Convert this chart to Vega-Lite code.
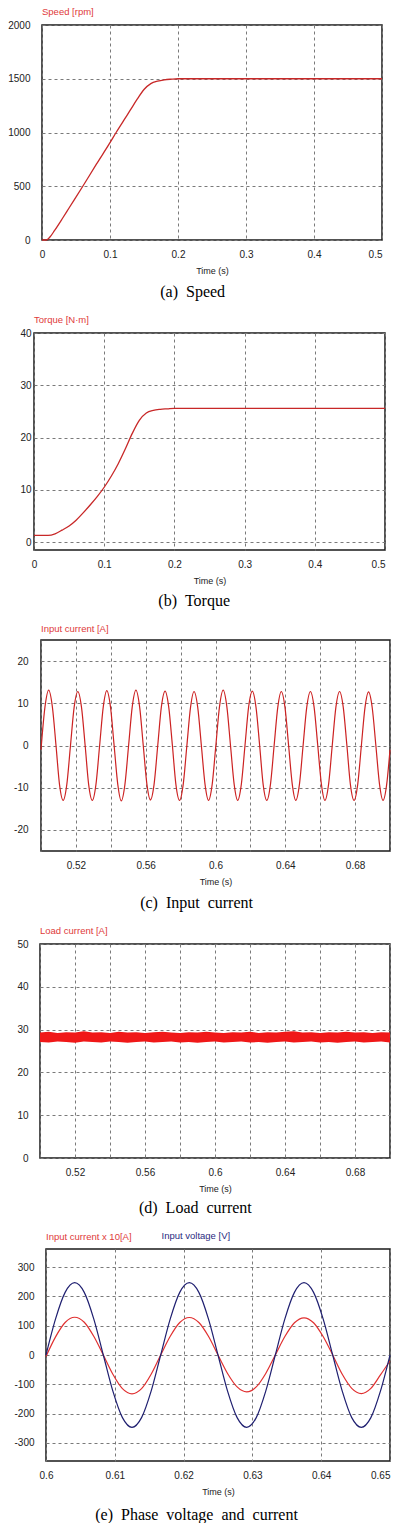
{
  "$schema": "https://vega.github.io/schema/vega-lite/v6.json",
  "background": "white",
  "padding": {"left": 0, "top": 5, "right": 0, "bottom": 0},
  "spacing": 13,
  "config": {
    "view": {"stroke": "#1a1a1a", "strokeWidth": 1.5},
    "axis": {
      "grid": true, "gridColor": "#7a7a7a", "gridDash": [3, 3], "gridWidth": 1,
      "domain": false, "ticks": false, "tickSize": 0,
      "labelFont": "Liberation Sans", "labelFontSize": 10, "labelColor": "#222",
      "titleFont": "Liberation Sans", "titleFontSize": 9, "titleFontWeight": "normal", "titleColor": "#222"
    },
    "axisX": {"labelFlush": false, "labelPadding": 9, "titlePadding": 7},
    "line": {"interpolate": "monotone"}
  },
  "vconcat": [
    {
      "title": {"text": "(a)\u00a0\u00a0Speed", "orient": "bottom", "font": "Liberation Serif", "fontSize": 16, "fontWeight": "normal", "color": "#000", "anchor": "middle", "frame": "bounds", "offset": 8},
      "spacing": 0,
      "hconcat": [
        {"width": 5, "height": 10, "data": {"values": []}, "mark": "point", "view": {"stroke": null}},
        {
          "width": 340, "height": 215,
          "title": {"text": "Speed [rpm]", "anchor": "start", "frame": "group", "color": "#e03a3a", "font": "Liberation Sans", "fontSize": 9.5, "fontWeight": "normal", "offset": 4},
          "data": {"values": [
            {"t": 0, "v": 0}, {"t": 0.0064, "v": 0}, {"t": 0.012, "v": 30}, {"t": 0.018, "v": 84},
            {"t": 0.03, "v": 200}, {"t": 0.04, "v": 300}, {"t": 0.06, "v": 500}, {"t": 0.08, "v": 705},
            {"t": 0.1, "v": 905}, {"t": 0.109, "v": 1000}, {"t": 0.12, "v": 1110}, {"t": 0.13, "v": 1210},
            {"t": 0.14, "v": 1310}, {"t": 0.15, "v": 1400}, {"t": 0.16, "v": 1455}, {"t": 0.17, "v": 1478},
            {"t": 0.18, "v": 1490}, {"t": 0.19, "v": 1496}, {"t": 0.2, "v": 1500}, {"t": 0.5, "v": 1500}
          ]},
          "mark": {"type": "line", "color": "#c82828", "strokeWidth": 1.3},
          "encoding": {
            "x": {"field": "t", "type": "quantitative", "scale": {"domain": [0, 0.5], "nice": false},
              "axis": {"title": "Time (s)", "values": [0, 0.1, 0.2, 0.3, 0.4, 0.5], "format": ".1~f",
                "labelAlign": {"condition": {"test": "datum.value >= 0.5", "value": "right"}, "value": "center"}}},
            "y": {"field": "v", "type": "quantitative", "scale": {"domain": [0, 2000], "nice": false},
              "axis": {"title": null, "values": [0, 500, 1000, 1500, 2000], "format": "d", "labelPadding": 12, "minExtent": 36}}
          }
        }
      ]
    },
    {
      "title": {"text": "(b)\u00a0\u00a0Torque", "orient": "bottom", "font": "Liberation Serif", "fontSize": 16, "fontWeight": "normal", "color": "#000", "anchor": "middle", "frame": "bounds", "offset": 7.5},
      "spacing": 0,
      "hconcat": [
        {"width": 5, "height": 10, "data": {"values": []}, "mark": "point", "view": {"stroke": null}},
        {
          "width": 351, "height": 217,
          "title": {"text": "Torque [N\u00b7m]", "anchor": "start", "frame": "group", "color": "#e03a3a", "font": "Liberation Sans", "fontSize": 9.5, "fontWeight": "normal", "offset": 4},
          "data": {"values": [
            {"t": 0, "q": 1.3}, {"t": 0.02, "q": 1.3}, {"t": 0.03, "q": 1.6}, {"t": 0.04, "q": 2.3},
            {"t": 0.05, "q": 3.1}, {"t": 0.06, "q": 4.2}, {"t": 0.07, "q": 5.6}, {"t": 0.08, "q": 7.1},
            {"t": 0.09, "q": 8.7}, {"t": 0.1, "q": 10.5}, {"t": 0.11, "q": 12.6}, {"t": 0.12, "q": 15},
            {"t": 0.13, "q": 17.8}, {"t": 0.14, "q": 20.8}, {"t": 0.15, "q": 23.3}, {"t": 0.16, "q": 24.7},
            {"t": 0.17, "q": 25.2}, {"t": 0.18, "q": 25.4}, {"t": 0.19, "q": 25.5}, {"t": 0.2, "q": 25.6},
            {"t": 0.5, "q": 25.6}
          ]},
          "mark": {"type": "line", "color": "#c82828", "strokeWidth": 1.3},
          "encoding": {
            "x": {"field": "t", "type": "quantitative", "scale": {"domain": [0, 0.5], "nice": false},
              "axis": {"title": "Time (s)", "values": [0, 0.1, 0.2, 0.3, 0.4, 0.5], "format": ".1~f",
                "labelAlign": {"condition": {"test": "datum.value >= 0.5", "value": "right"}, "value": "center"}}},
            "y": {"field": "q", "type": "quantitative", "scale": {"domain": [-1.5, 40], "nice": false, "zero": false},
              "axis": {"title": null, "values": [0, 10, 20, 30, 40], "format": "d", "labelPadding": 3, "minExtent": 28}}
          }
        }
      ]
    },
    {
      "title": {"text": "(c)\u00a0\u00a0Input\u00a0\u00a0current", "orient": "bottom", "font": "Liberation Serif", "fontSize": 16, "fontWeight": "normal", "color": "#000", "anchor": "middle", "frame": "bounds", "offset": 8},
      "spacing": 0,
      "hconcat": [
        {"width": 5, "height": 10, "data": {"values": []}, "mark": "point", "view": {"stroke": null}},
        {
          "width": 349, "height": 211,
          "title": {"text": "Input current  [A]", "anchor": "start", "frame": "group", "color": "#e03a3a", "font": "Liberation Sans", "fontSize": 9.5, "fontWeight": "normal", "offset": 6.5},
          "data": {"values": [
            {"t": 0.5, "i": -1}, {"t": 0.5023, "i": 9.2},
            {"t": 0.5044, "i": 13.1}, {"t": 0.5065, "i": 9.2}, {"t": 0.5086, "i": 0}, {"t": 0.5106, "i": -9.2}, {"t": 0.5127, "i": -13}, {"t": 0.5148, "i": -9.2}, {"t": 0.5169, "i": 0}, {"t": 0.519, "i": 9.1},
            {"t": 0.5211, "i": 12.8}, {"t": 0.5232, "i": 9.1}, {"t": 0.5253, "i": 0}, {"t": 0.5273, "i": -9.2}, {"t": 0.5294, "i": -13}, {"t": 0.5315, "i": -9.2}, {"t": 0.5336, "i": 0}, {"t": 0.5357, "i": 9.2},
            {"t": 0.5377, "i": 13}, {"t": 0.5398, "i": 9.2}, {"t": 0.5419, "i": 0}, {"t": 0.544, "i": -9.2}, {"t": 0.546, "i": -13.1}, {"t": 0.5481, "i": -9.2}, {"t": 0.5502, "i": 0}, {"t": 0.5523, "i": 9.2},
            {"t": 0.5544, "i": 13.1}, {"t": 0.5565, "i": 9.2}, {"t": 0.5586, "i": 0}, {"t": 0.5607, "i": -9.2}, {"t": 0.5627, "i": -12.9}, {"t": 0.5648, "i": -9.2}, {"t": 0.5669, "i": 0}, {"t": 0.569, "i": 9.2},
            {"t": 0.5711, "i": 12.9}, {"t": 0.5732, "i": 9.1}, {"t": 0.5753, "i": 0}, {"t": 0.5773, "i": -9.2}, {"t": 0.5794, "i": -13}, {"t": 0.5815, "i": -9.2}, {"t": 0.5836, "i": 0}, {"t": 0.5857, "i": 9.1},
            {"t": 0.5877, "i": 12.8}, {"t": 0.5898, "i": 9.1}, {"t": 0.5919, "i": 0}, {"t": 0.594, "i": -9.2}, {"t": 0.596, "i": -13}, {"t": 0.5981, "i": -9.2}, {"t": 0.6002, "i": 0}, {"t": 0.6023, "i": 9.2},
            {"t": 0.6044, "i": 13.1}, {"t": 0.6065, "i": 9.2}, {"t": 0.6086, "i": 0}, {"t": 0.6107, "i": -9.2}, {"t": 0.6127, "i": -13}, {"t": 0.6148, "i": -9.2}, {"t": 0.6169, "i": 0}, {"t": 0.619, "i": 9.2},
            {"t": 0.6211, "i": 12.9}, {"t": 0.6232, "i": 9.1}, {"t": 0.6253, "i": 0}, {"t": 0.6273, "i": -9.2}, {"t": 0.6294, "i": -13}, {"t": 0.6315, "i": -9.2}, {"t": 0.6336, "i": 0}, {"t": 0.6357, "i": 9.1},
            {"t": 0.6377, "i": 12.8}, {"t": 0.6398, "i": 9.1}, {"t": 0.6419, "i": 0}, {"t": 0.644, "i": -9.2}, {"t": 0.646, "i": -13}, {"t": 0.6481, "i": -9.2}, {"t": 0.6502, "i": 0}, {"t": 0.6523, "i": 9.1},
            {"t": 0.6544, "i": 12.8}, {"t": 0.6565, "i": 9.1}, {"t": 0.6586, "i": 0}, {"t": 0.6607, "i": -9.2}, {"t": 0.6627, "i": -13}, {"t": 0.6648, "i": -9.2}, {"t": 0.6669, "i": 0}, {"t": 0.669, "i": 9.1},
            {"t": 0.6711, "i": 12.8}, {"t": 0.6732, "i": 9.1}, {"t": 0.6753, "i": 0}, {"t": 0.6773, "i": -9.2}, {"t": 0.6794, "i": -13}, {"t": 0.6815, "i": -9.2}, {"t": 0.6836, "i": 0}, {"t": 0.6857, "i": 9.1},
            {"t": 0.6877, "i": 12.7}, {"t": 0.6898, "i": 9}, {"t": 0.6919, "i": 0}, {"t": 0.694, "i": -9.2}, {"t": 0.696, "i": -13}, {"t": 0.6981, "i": -9.2}, {"t": 0.7, "i": -1}
          ]},
          "mark": {"type": "line", "color": "#cc2222", "strokeWidth": 1.2},
          "encoding": {
            "x": {"field": "t", "type": "quantitative", "scale": {"domain": [0.5, 0.7], "nice": false, "zero": false},
              "axis": {"title": "Time (s)", "values": [0.5, 0.52, 0.54, 0.56, 0.58, 0.6, 0.62, 0.64, 0.66, 0.68, 0.7], "format": ".2~f",
                "labelExpr": "round(datum.value * 100) % 4 == 0 ? datum.label : ''"}},
            "y": {"field": "i", "type": "quantitative", "scale": {"domain": [-25, 25], "nice": false},
              "axis": {"title": null, "values": [-20, -10, 0, 10, 20], "format": "d", "labelPadding": 13, "minExtent": 35,
                "labelExpr": "replace(datum.label, '\u2212', '-')"}}
          }
        }
      ]
    },
    {
      "title": {"text": "(d)\u00a0\u00a0Load\u00a0\u00a0current", "orient": "bottom", "font": "Liberation Serif", "fontSize": 16, "fontWeight": "normal", "color": "#000", "anchor": "middle", "frame": "bounds", "offset": 6},
      "spacing": 0,
      "hconcat": [
        {"width": 5, "height": 10, "data": {"values": []}, "mark": "point", "view": {"stroke": null}},
        {
          "width": 350, "height": 214,
          "title": {"text": "Load current [A]", "anchor": "start", "frame": "group", "color": "#e03a3a", "font": "Liberation Sans", "fontSize": 9.5, "fontWeight": "normal", "offset": 4},
          "data": {"values": [
            {"t": 0.5, "lo": 27.1, "hi": 29.3}, {"t": 0.505, "lo": 27.0, "hi": 29.5}, {"t": 0.51, "lo": 27.2, "hi": 29.2},
            {"t": 0.515, "lo": 27.1, "hi": 29.4}, {"t": 0.52, "lo": 26.9, "hi": 29.3}, {"t": 0.525, "lo": 27.2, "hi": 29.6},
            {"t": 0.53, "lo": 27.1, "hi": 29.3}, {"t": 0.535, "lo": 27.0, "hi": 29.4}, {"t": 0.54, "lo": 27.2, "hi": 29.2},
            {"t": 0.545, "lo": 27.1, "hi": 29.5}, {"t": 0.55, "lo": 26.9, "hi": 29.3}, {"t": 0.555, "lo": 27.1, "hi": 29.4},
            {"t": 0.56, "lo": 27.2, "hi": 29.2}, {"t": 0.565, "lo": 27.0, "hi": 29.4}, {"t": 0.57, "lo": 27.1, "hi": 29.5},
            {"t": 0.575, "lo": 27.2, "hi": 29.3}, {"t": 0.58, "lo": 27.0, "hi": 29.2}, {"t": 0.585, "lo": 27.1, "hi": 29.4},
            {"t": 0.59, "lo": 26.9, "hi": 29.3}, {"t": 0.595, "lo": 27.1, "hi": 29.5}, {"t": 0.6, "lo": 27.2, "hi": 29.3},
            {"t": 0.605, "lo": 27.0, "hi": 29.2}, {"t": 0.61, "lo": 27.1, "hi": 29.4}, {"t": 0.615, "lo": 27.2, "hi": 29.3},
            {"t": 0.62, "lo": 27.0, "hi": 29.5}, {"t": 0.625, "lo": 27.1, "hi": 29.2}, {"t": 0.63, "lo": 26.9, "hi": 29.4},
            {"t": 0.635, "lo": 27.1, "hi": 29.3}, {"t": 0.64, "lo": 27.2, "hi": 29.5}, {"t": 0.645, "lo": 27.0, "hi": 29.6},
            {"t": 0.65, "lo": 27.1, "hi": 29.3}, {"t": 0.655, "lo": 27.2, "hi": 29.4}, {"t": 0.66, "lo": 27.0, "hi": 29.2},
            {"t": 0.665, "lo": 27.1, "hi": 29.4}, {"t": 0.67, "lo": 26.9, "hi": 29.3}, {"t": 0.675, "lo": 27.1, "hi": 29.5},
            {"t": 0.68, "lo": 27.2, "hi": 29.3}, {"t": 0.685, "lo": 27.0, "hi": 29.4}, {"t": 0.69, "lo": 27.1, "hi": 29.2},
            {"t": 0.695, "lo": 27.2, "hi": 29.4}, {"t": 0.7, "lo": 27.0, "hi": 29.3}
          ]},
          "mark": {"type": "area", "color": "#f01818", "interpolate": "linear"},
          "encoding": {
            "x": {"field": "t", "type": "quantitative", "scale": {"domain": [0.5, 0.7], "nice": false, "zero": false},
              "axis": {"title": "Time (s)", "values": [0.5, 0.52, 0.54, 0.56, 0.58, 0.6, 0.62, 0.64, 0.66, 0.68, 0.7], "format": ".2~f",
                "labelExpr": "round(datum.value * 100) % 4 == 0 ? datum.label : ''"}},
            "y": {"field": "lo", "type": "quantitative", "scale": {"domain": [0, 50], "nice": false},
              "axis": {"title": null, "values": [0, 10, 20, 30, 40, 50], "format": "d", "labelPadding": 12, "minExtent": 34}},
            "y2": {"field": "hi"}
          }
        }
      ]
    },
    {
      "title": {"text": "(e)\u00a0\u00a0Phase\u00a0\u00a0voltage\u00a0\u00a0and\u00a0\u00a0current", "orient": "bottom", "font": "Liberation Serif", "fontSize": 16, "fontWeight": "normal", "color": "#000", "anchor": "middle", "frame": "bounds", "offset": 10},
      "spacing": 0,
      "hconcat": [
        {"width": 5, "height": 10, "data": {"values": []}, "mark": "point", "view": {"stroke": null}},
        {
          "width": 344, "height": 212,
          "title": {"text": "Input current x 10[A]", "anchor": "start", "frame": "group", "color": "#e03a3a", "font": "Liberation Sans", "fontSize": 9.5, "fontWeight": "normal", "offset": -11},
          "data": {"values": [
            {"t": 0.6, "current": -5, "voltage": 0}, {"t": 0.60139, "current": 62, "voltage": 123.5}, {"t": 0.60278, "current": 111, "voltage": 213.9},
            {"t": 0.60417, "current": 129, "voltage": 247}, {"t": 0.60556, "current": 112, "voltage": 213.9}, {"t": 0.60694, "current": 64, "voltage": 123.5},
            {"t": 0.60833, "current": 0, "voltage": 0}, {"t": 0.60972, "current": -66, "voltage": -123.5}, {"t": 0.61111, "current": -115, "voltage": -213.9},
            {"t": 0.6125, "current": -133, "voltage": -247}, {"t": 0.61389, "current": -115, "voltage": -213.9}, {"t": 0.61528, "current": -66, "voltage": -123.5},
            {"t": 0.61667, "current": 0, "voltage": 0}, {"t": 0.61806, "current": 64, "voltage": 123.5}, {"t": 0.61944, "current": 111, "voltage": 213.9},
            {"t": 0.62083, "current": 128, "voltage": 247}, {"t": 0.62222, "current": 111, "voltage": 213.9}, {"t": 0.62361, "current": 64, "voltage": 123.5},
            {"t": 0.625, "current": 0, "voltage": 0}, {"t": 0.62639, "current": -63, "voltage": -123.5}, {"t": 0.62778, "current": -109, "voltage": -213.9},
            {"t": 0.62917, "current": -126, "voltage": -247}, {"t": 0.63056, "current": -109, "voltage": -213.9}, {"t": 0.63194, "current": -63, "voltage": -123.5},
            {"t": 0.63333, "current": 0, "voltage": 0}, {"t": 0.63472, "current": 63, "voltage": 123.5}, {"t": 0.63611, "current": 110, "voltage": 213.9},
            {"t": 0.6375, "current": 127, "voltage": 247}, {"t": 0.63889, "current": 110, "voltage": 213.9}, {"t": 0.64028, "current": 63, "voltage": 123.5},
            {"t": 0.64167, "current": 0, "voltage": 0}, {"t": 0.64306, "current": -66, "voltage": -123.5}, {"t": 0.64444, "current": -114, "voltage": -213.9},
            {"t": 0.64583, "current": -132, "voltage": -247}, {"t": 0.64722, "current": -114, "voltage": -213.9}, {"t": 0.64861, "current": -68, "voltage": -123.5},
            {"t": 0.65, "current": -20, "voltage": 0}
          ]},
          "transform": [{"fold": ["current", "voltage"], "as": ["series", "value"]}],
          "mark": {"type": "line", "strokeWidth": 1.2},
          "encoding": {
            "x": {"field": "t", "type": "quantitative", "scale": {"domain": [0.6, 0.65], "nice": false, "zero": false},
              "axis": {"title": "Time (s)", "values": [0.6, 0.61, 0.62, 0.63, 0.64, 0.65], "format": ".2~f",
                "labelAlign": {"condition": {"test": "datum.value >= 0.649", "value": "right"}, "value": "center"}}},
            "y": {"field": "value", "type": "quantitative", "scale": {"domain": [-362, 362], "nice": false},
              "axis": {"title": "Input voltage [V]", "titleAngle": 0, "titleAlign": "left", "titleBaseline": "bottom",
                "titleX": 115, "titleY": -9, "titleColor": "#2a2a80", "titleFontSize": 9.5,
                "values": [-300, -200, -100, 0, 100, 200, 300], "format": "d", "labelPadding": 12, "minExtent": 40,
                "labelExpr": "replace(datum.label, '\u2212', '-')"}},
            "color": {"field": "series", "type": "nominal", "scale": {"domain": ["current", "voltage"], "range": ["#e03030", "#1f1f70"]}, "legend": null}
          }
        }
      ]
    }
  ]
}
